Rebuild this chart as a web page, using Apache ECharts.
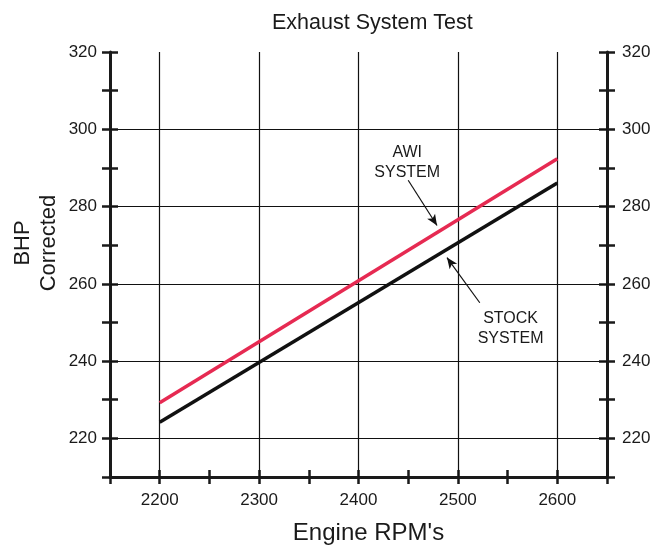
<!DOCTYPE html>
<html>
<head>
<meta charset="utf-8">
<title>Exhaust System Test</title>
<script src="https://cdn.jsdelivr.net/npm/echarts@6/dist/echarts.min.js"></script>
<style>
  html, body { margin: 0; padding: 0; background: #fff; }
  #chart { width: 654px; height: 545px; }
</style>
</head>
<body>
<div id="chart"></div>
<script>
// values
var rpm = [2200, 2600];
var awiBhp = [229.2, 292.4];
var stockBhp = [224.2, 286.1];
var xGridAt = [2200, 2300, 2400, 2500, 2600];
var yGridAt = [220, 240, 260, 280, 300];

var FONT = '"Liberation Sans", Arial, Helvetica, sans-serif';
var INK = '#1a1a1a';

function pairs(xs, ys) {
    return xs.map(function (x, i) { return [x, ys[i]]; });
}

var gridLines = xGridAt.map(function (v) { return { xAxis: v }; })
    .concat(yGridAt.map(function (v) { return { yAxis: v }; }));

function xAxisDef(inside, showLabel) {
    return {
        type: 'value', position: 'bottom', min: 2150, max: 2650, interval: 50,
        axisLine: { show: !inside, onZero: false, lineStyle: { color: INK, width: 3 } },
        axisTick: { show: true, inside: inside, length: 7, lineStyle: { color: INK, width: 2.5 } },
        axisLabel: {
            show: showLabel, margin: 15, color: INK, fontSize: 17, fontFamily: FONT,
            formatter: function (v) { return v % 100 === 0 ? String(v) : ''; }
        },
        splitLine: { show: false }
    };
}

function yAxisDef(pos, inside, showLabel, margin) {
    return {
        type: 'value', position: pos, min: 210, max: 320, interval: 10,
        axisLine: { show: !inside, onZero: false, lineStyle: { color: INK, width: 3 } },
        axisTick: { show: true, inside: inside, length: 8, lineStyle: { color: INK, width: 2.5 } },
        axisLabel: {
            show: showLabel, margin: margin, color: INK, fontSize: 17, fontFamily: FONT,
            formatter: function (v) { return (v - 200) % 20 === 0 ? String(v) : ''; }
        },
        splitLine: { show: false }
    };
}

var chart = echarts.init(document.getElementById('chart'));
chart.setOption({
    animation: false,
    backgroundColor: '#fff',
    textStyle: { fontFamily: FONT },
    title: {
        text: 'Exhaust System Test', left: 267, top: 7,
        textStyle: { fontSize: 21.5, fontWeight: 'normal', color: INK, fontFamily: FONT }
    },
    grid: { left: 110, right: 47, top: 52, bottom: 68, outerBoundsMode: 'none', containLabel: false },
    xAxis: [
        Object.assign(xAxisDef(false, true), {
            name: "Engine RPM's", nameLocation: 'middle', nameGap: 44,
            nameTextStyle: { fontSize: 24, color: INK, fontFamily: FONT, padding: [0, 0, 0, 20] }
        }),
        xAxisDef(true, false)
    ],
    yAxis: [
        yAxisDef('left', false, true, 13),
        yAxisDef('left', true, false, 13),
        yAxisDef('right', false, true, 15),
        yAxisDef('right', true, false, 15)
    ],
    graphic: [{
        type: 'text', x: 36, y: 243, rotation: Math.PI / 2,
        style: {
            text: 'BHP\nCorrected', fill: INK, font: '22px ' + FONT,
            align: 'center', verticalAlign: 'middle', lineHeight: 26
        }
    }],
    series: [
        {
            name: 'STOCK SYSTEM', type: 'line', data: pairs(rpm, stockBhp),
            showSymbol: false, z: 3,
            lineStyle: { color: '#111', width: 3.5 },
            markLine: {
                silent: true, symbol: 'none', label: { show: false }, z: 1,
                lineStyle: { color: '#111', width: 1.2, type: 'solid' },
                data: gridLines
            },
            markPoint: {
                symbol: 'circle', symbolSize: 0,
                label: {
                    show: true, position: 'inside', color: INK, fontSize: 16, lineHeight: 20,
                    fontFamily: FONT, formatter: 'STOCK\nSYSTEM'
                },
                data: [{ coord: [2553, 248.3] }]
            }
        },
        {
            name: 'AWI SYSTEM', type: 'line', data: pairs(rpm, awiBhp),
            showSymbol: false, z: 4,
            lineStyle: { color: '#e62a52', width: 3.5 },
            markLine: {
                silent: true, symbol: ['none', 'arrow'], symbolSize: [7, 11], label: { show: false },
                lineStyle: { color: '#111', width: 1.2, type: 'solid' },
                data: [
                    [{ coord: [2450, 286.8] }, { coord: [2479, 275.1] }],
                    [{ coord: [2522, 255.1] }, { coord: [2489, 266.8] }]
                ]
            },
            markPoint: {
                symbol: 'circle', symbolSize: 0,
                label: {
                    show: true, position: 'inside', color: INK, fontSize: 16, lineHeight: 20,
                    fontFamily: FONT, formatter: 'AWI\nSYSTEM'
                },
                data: [{ coord: [2449, 291.4] }]
            }
        }
    ]
});
</script>
</body>
</html>
